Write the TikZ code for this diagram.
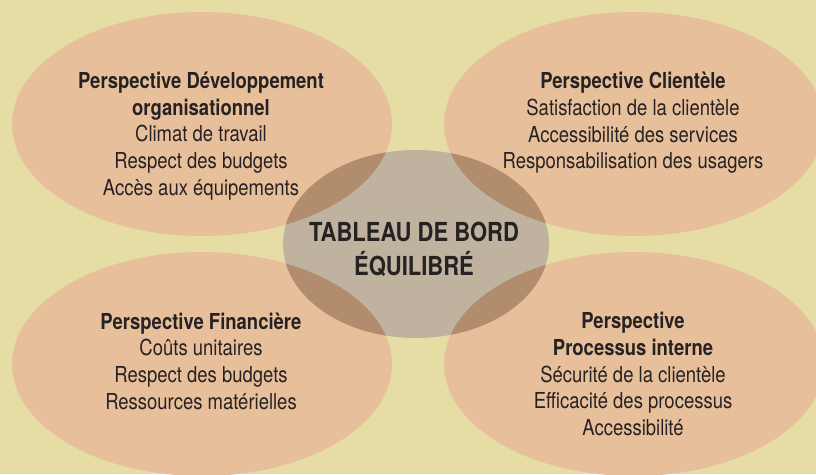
\documentclass[tikz,border=0pt]{standalone}
\usepackage{fontspec}
\setmainfont{TeX Gyre Heros}[FakeStretch=0.84]
\definecolor{bgcol}{HTML}{E5DDA3}
\definecolor{peach}{HTML}{E8BF9B}
\definecolor{centcol}{HTML}{BFB39F}
\definecolor{overlap}{HTML}{B18D6D}
\definecolor{txt}{HTML}{262223}
\begin{document}
\begin{tikzpicture}[x=1pt,y=-1pt,
  persp/.style={align=center,text=txt,font=\fontsize{22}{26.6}\selectfont},
  center text/.style={align=center,text=txt,font=\fontsize{26.2}{34}\selectfont\bfseries}]
\useasboundingbox (0,0) rectangle (816,474);
\clip (0,0) rectangle (816,474);
\fill[bgcol] (0,0) rectangle (816,474);
% outer ellipses
\fill[peach] (202,124) ellipse [x radius=190, y radius=112];
\fill[peach] (634,124) ellipse [x radius=190, y radius=112];
\fill[peach] (202,364) ellipse [x radius=190, y radius=112];
\fill[peach] (634,364) ellipse [x radius=190, y radius=112];
% central ellipse
\fill[centcol] (416,244) ellipse [x radius=133, y radius=94];
\begin{scope}
  \clip (416,244) ellipse [x radius=133, y radius=94];
  \fill[overlap] (202,124) ellipse [x radius=190, y radius=112];
  \fill[overlap] (634,124) ellipse [x radius=190, y radius=112];
  \fill[overlap] (202,364) ellipse [x radius=190, y radius=112];
  \fill[overlap] (634,364) ellipse [x radius=190, y radius=112];
\end{scope}
% texts
\node[persp] (dev) at (201,136) {\textbf{Perspective Développement}\\\textbf{organisationnel}\\Climat de travail\\Respect des budgets\\Accès aux équipements};
\node[persp] (cli) at (633,123) {\textbf{Perspective Clientèle}\\Satisfaction de la clientèle\\Accessibilité des services\\Responsabilisation des usagers};
\node[persp] (fin) at (201,361) {\textbf{Perspective Financière}\\Coûts unitaires\\Respect des budgets\\Ressources matérielles};
\node[persp] (pro) at (633,374) {\textbf{Perspective}\\\textbf{Processus interne}\\Sécurité de la clientèle\\Efficacité des processus\\Accessibilité};
\node[center text] (tb) at (414,249.5) {TABLEAU DE BORD\\ÉQUILIBRÉ};
\end{tikzpicture}
\end{document}
